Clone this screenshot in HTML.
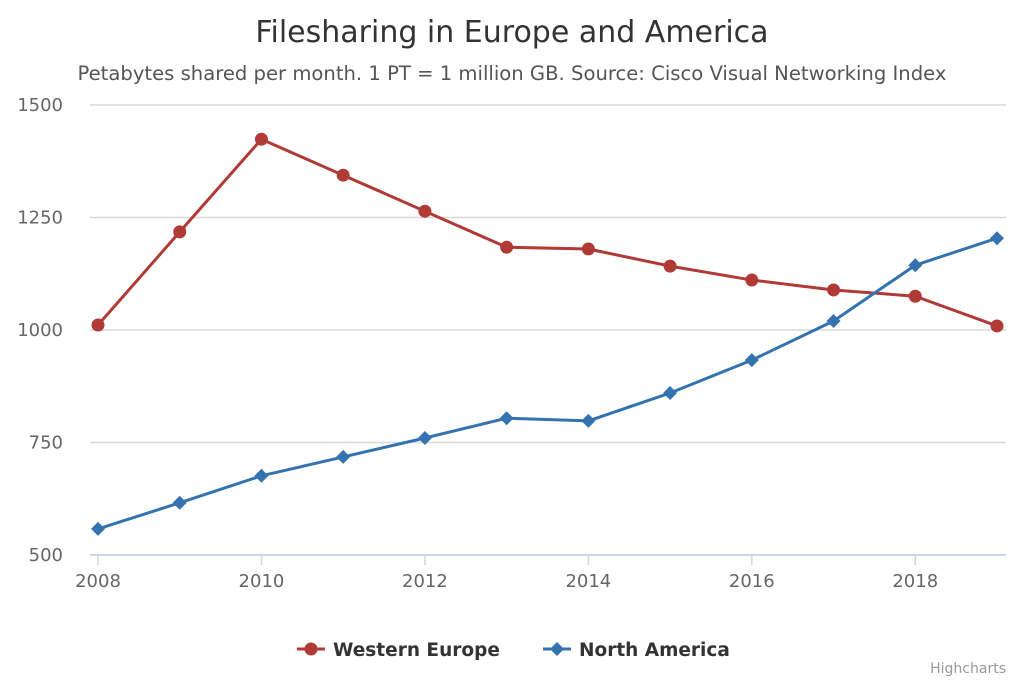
<!DOCTYPE html>
<html><head><meta charset="utf-8"><style>
html,body{margin:0;padding:0;background:#fff;}
svg{display:block;font-family:"DejaVu Sans","Liberation Sans",sans-serif;}
</style></head><body>
<svg id="chart" width="1024" height="683">
<text x="512" y="42" text-anchor="middle" font-size="30" fill="#333">Filesharing in Europe and America</text>
<text x="512" y="80" text-anchor="middle" font-size="19.6" fill="#555">Petabytes shared per month. 1 PT = 1 million GB. Source: Cisco Visual Networking Index</text>
<g id="grid"></g><g id="series"></g>
<g>
<g>
<line x1="297" y1="649" x2="325" y2="649" stroke="#b03a35" stroke-width="3"/>
<circle cx="311" cy="649" r="6.5" fill="#b03a35"/>
<text x="333" y="656" font-size="18.5" font-weight="bold" fill="#333">Western Europe</text></g>
<g>
<line x1="543" y1="649" x2="571" y2="649" stroke="#3473b0" stroke-width="3"/>
<path d="M557 642 L564 649 L557 656 L550 649 Z" fill="#3473b0"/>
<text x="579" y="656" font-size="18.5" font-weight="bold" fill="#333">North America</text></g>
</g>
<text x="1006" y="673" text-anchor="end" font-size="14" fill="#999">Highcharts</text>
</svg>
<script>
const years=[2008,2009,2010,2011,2012,2013,2014,2015,2016,2017,2018,2019];
const westernEurope=[1011,1218,1424,1344,1264,1184,1180,1142,1111,1089,1075,1009];
const northAmerica=[558,616,676,718,760,804,798,860,933,1020,1144,1204];
const yTicks=[500,750,1000,1250,1500];
const xTicks=[2008,2010,2012,2014,2016,2018];
const NS="http://www.w3.org/2000/svg";
const X=v=>98+(v-2008)*(997-98)/11;
const Y=v=>555-(v-500)*0.45;
function mk(t,a,p){const e=document.createElementNS(NS,t);for(const k in a)e.setAttribute(k,a[k]);p.appendChild(e);return e;}
const g=document.getElementById('grid'),s=document.getElementById('series');
yTicks.forEach(v=>{
 const l=mk('line',{x1:90,x2:1006,y1:Y(v),y2:Y(v),stroke:v===500?'#ccd6eb':'#d8d8d8','stroke-width':v===500?2:1.5},g);
 
 
 const t=mk('text',{x:63,y:Y(v)+6,'text-anchor':'end','font-size':18,fill:'#666'},g);t.textContent=v;
 
 
});
xTicks.forEach(v=>{
 const tk=mk('line',{x1:X(v),x2:X(v),y1:555,y2:565,stroke:'#ccd6eb','stroke-width':1.5},g);
 
 
 const t=mk('text',{x:X(v),y:587,'text-anchor':'middle','font-size':18,fill:'#666'},g);t.textContent=v;
 
 
});
function draw(data,color,shape,name){
 const p=mk('polyline',{points:data.map((v,i)=>X(years[i])+','+Y(v)).join(' '),fill:'none',stroke:color,'stroke-width':3,'stroke-linejoin':'round'},s);
 
 
 data.forEach((v,i)=>{
  const x=X(years[i]),y=Y(v);let m;
  if(shape==='c')m=mk('circle',{cx:x,cy:y,r:6.5,fill:color},s);
  else m=mk('path',{d:`M${x} ${y-7} L${x+7} ${y} L${x} ${y+7} L${x-7} ${y} Z`,fill:color},s);
  
  
 });
}
draw(westernEurope,'#b03a35','c','western-europe');
draw(northAmerica,'#3473b0','d','north-america');
</script>
</body></html>
